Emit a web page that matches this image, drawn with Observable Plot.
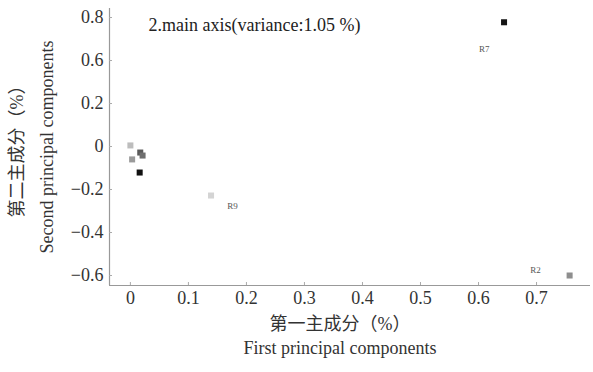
<!DOCTYPE html>
<html><head><meta charset="utf-8">
<script src="https://cdn.jsdelivr.net/npm/d3@7"></script>
<script src="https://cdn.jsdelivr.net/npm/@observablehq/plot@0.6"></script>
<style>body{margin:0;background:#fff}</style>
</head><body><div id="chart"></div>
<script>
// samples (first / second principal component)
const pointX = [0.000, 0.003, 0.017, 0.021, 0.016, 0.139, 0.644, 0.757];
const pointY = [0.005, -0.060, -0.028, -0.042, -0.121, -0.228, 0.778, -0.600];
const pointShade = ["#bdbdbd", "#9a9a9a", "#5a5a5a", "#6e6e6e", "#111111", "#d4d4d4", "#151515", "#8e8e8e"];
// sample labels
const labelText = ["R9", "R7", "R2"];
const labelX = [0.176, 0.610, 0.698];
const labelY = [-0.279, 0.651, -0.577];
// axes
const xTicks = [0, 0.1, 0.2, 0.3, 0.4, 0.5, 0.6, 0.7];
const yTicks = [0.8, 0.6, 0.2, 0, -0.2, -0.4, -0.6];
const xDomain = [-0.036, 0.793];
const yEnds = [0.842, -0.6465];
const annotation = "2.main axis(variance:1.05 %)";
const xLabelZh = "第一主成分（%）";
const xLabelEn = "First principal components";
const yLabelZh = "第二主成分（%）";
const yLabelEn = "Second principal components";

const W = 593, H = 372, mL = 109, mR = 3, mT = 8, mB = 87;
// the original axis spaces its tick labels evenly: piecewise mapping value -> even slot
const yPos = d3.scaleLinear()
  .domain(yTicks)
  .range(yTicks.map((d, i) => yTicks.length - 1 - i));
const yDomainU = [yPos(yEnds[1]), yPos(yEnds[0])];

const fmt = d => Math.abs(d) < 1e-9 ? "0" : String(+d.toFixed(2)).replace("-", "\u2212");
const idx = d3.range(pointX.length);
const lidx = d3.range(labelText.length);
const serif = "'Liberation Serif', 'Noto Sans CJK SC', serif";

const chart = Plot.plot({
  width: W, height: H,
  marginLeft: mL, marginRight: mR, marginTop: mT, marginBottom: mB,
  style: {fontFamily: serif, fontSize: "18px", background: "#fff"},
  x: {domain: xDomain, label: null},
  y: {domain: yDomainU, label: null},
  color: {type: "identity"},
  marks: [
    Plot.ruleX([xDomain[0]], {stroke: "#999", strokeWidth: 1.2}),
    Plot.ruleY([yDomainU[0]], {stroke: "#999", strokeWidth: 1.2}),
    Plot.axisX(xTicks, {tickSize: -3, tickPadding: 9, stroke: "#aaa", fill: "#333", tickFormat: fmt, label: null}),
    Plot.axisY(yTicks.map(yPos), {tickSize: -3, tickPadding: 9, stroke: "#aaa", fill: "#333", tickFormat: u => fmt(yPos.invert(u)), label: null}),
    Plot.dot(idx, {x: i => pointX[i], y: i => yPos(pointY[i]), fill: i => pointShade[i], symbol: "square", r: 3.4}),
    Plot.text(lidx, {x: i => labelX[i], y: i => yPos(labelY[i]), text: i => labelText[i], fontSize: 9, fill: "#555"}),
    Plot.text([annotation], {frameAnchor: "top-left", textAnchor: "start", dx: 39, dy: 10, fill: "#222"}),
    Plot.text([xLabelZh], {frameAnchor: "bottom", dx: -10, dy: 44, fill: "#333", fontSize: 18}),
    Plot.text([xLabelEn], {frameAnchor: "bottom", dx: -10, dy: 68, fill: "#333", fontSize: 18}),
    Plot.text([yLabelZh], {frameAnchor: "left", textAnchor: "middle", rotate: -90, dx: 17 - mL, fill: "#333", fontSize: 18}),
    Plot.text([yLabelEn], {frameAnchor: "left", textAnchor: "middle", rotate: -90, dx: 47 - mL, fill: "#333", fontSize: 18})
  ]
});
document.getElementById("chart").appendChild(chart);
</script>
</body></html>
